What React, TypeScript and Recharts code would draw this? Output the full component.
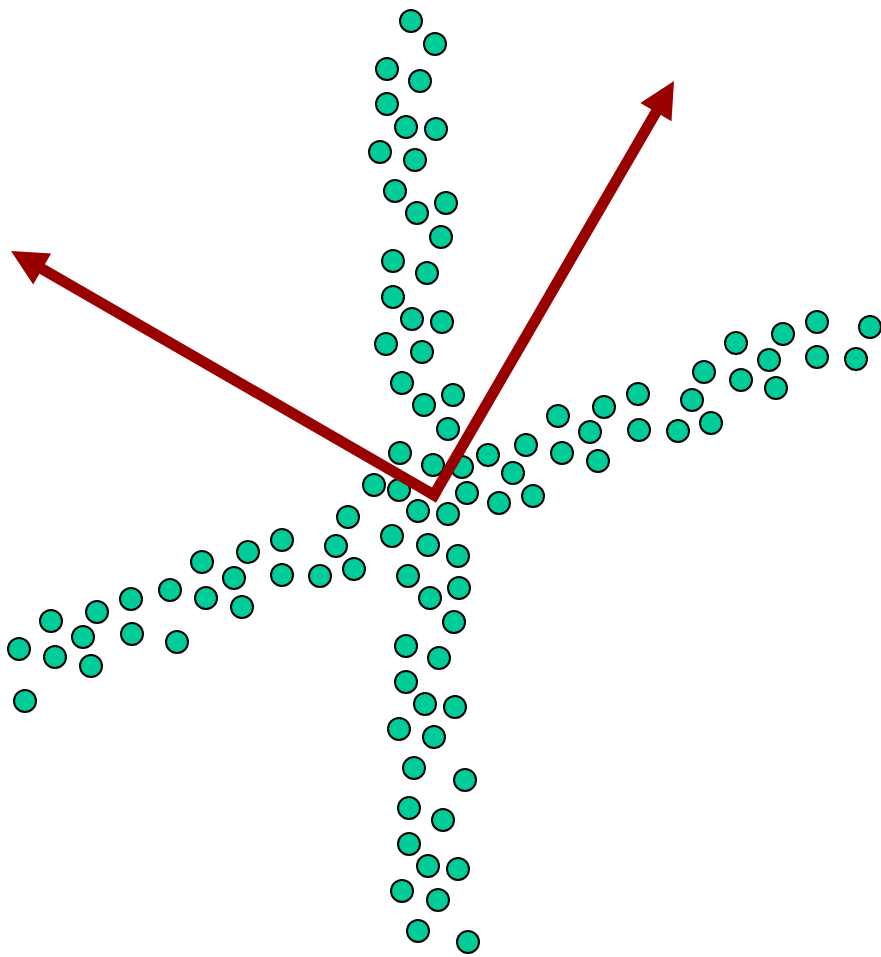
import React from 'react';
import { ScatterChart, Scatter, XAxis, YAxis, ReferenceLine } from 'recharts';

// Observation scores, grouped by the arm of the star they belong to: [x, y]
const upperArm: [number, number][] = [
  [-23, 474], [1, 451], [-47, 426], [-14, 414], [-47, 391], [-28, 368], [2, 366],
  [-54, 343], [-19, 335], [-39, 304], [-17, 282], [12, 292], [7, 258], [-41, 234],
  [-7, 222], [-41, 198], [-22, 176], [8, 173], [-48, 151], [-12, 143], [-32, 112],
  [-10, 90], [19, 100], [14, 66], [-34, 42], [-1, 30], [28, 28],
];

const centre: [number, number][] = [
  [-60, 10], [-35, 5], [33, 2], [-16, -16], [14, -19],
];

const rightArm: [number, number][] = [
  [54, 40], [79, 22], [65, -8], [99, -1], [92, 50], [128, 42], [124, 79], [156, 63],
  [170, 88], [164, 34], [204, 101], [205, 65], [244, 64], [258, 95], [277, 72],
  [270, 123], [302, 152], [307, 115], [335, 135], [342, 107], [349, 161], [383, 173],
  [383, 138], [422, 136], [436, 168],
];

const leftArm: [number, number][] = [
  [-86, -22], [-98, -51], [-80, -74], [-114, -81], [-152, -45], [-152, -80],
  [-186, -57], [-200, -83], [-192, -112], [-232, -67], [-228, -103], [-264, -95],
  [-257, -147], [-303, -104], [-302, -139], [-337, -117], [-351, -142], [-343, -171],
  [-383, -126], [-379, -162], [-415, -154], [-409, -206],
];

const lowerArm: [number, number][] = [
  [-42, -41], [-6, -50], [24, -61], [-26, -81], [-4, -103], [25, -93], [20, -127],
  [-28, -151], [5, -163], [-28, -187], [-9, -209], [21, -212], [-35, -234], [0, -242],
  [-20, -273], [31, -285], [-25, -313], [9, -325], [-25, -349], [-6, -371], [24, -374],
  [-32, -396], [4, -405], [-16, -436], [34, -447],
];

// Principal axis directions drawn as arrows from the origin
const axisVectors: [number, number][] = [
  [240, 414],
  [-423, 244],
];

const xDomain: [number, number] = [-434, 447];
const yDomain: [number, number] = [-462, 495];

const POINT_FILL = '#00CC99';
const ARROW_COLOR = '#990000';

const points = [...upperArm, ...centre, ...rightArm, ...leftArm, ...lowerArm].map(
  ([x, y]) => ({ x, y })
);

const Dot = (props: any) => {
  const { cx, cy } = props;
  if (cx == null || cy == null) return null;
  return <circle cx={cx} cy={cy} r={11} fill={POINT_FILL} stroke="#000" strokeWidth={2} />;
};

const Arrow = (props: any) => {
  const { x1, y1, x2, y2 } = props;
  const dx = x2 - x1;
  const dy = y2 - y1;
  const len = Math.sqrt(dx * dx + dy * dy) || 1;
  const ux = dx / len;
  const uy = dy / len;
  const headLen = 36;
  const halfW = 18;
  const bx = x2 - ux * headLen;
  const by = y2 - uy * headLen;
  const px = -uy;
  const py = ux;
  const head = `${x2},${y2} ${bx + px * halfW},${by + py * halfW} ${bx - px * halfW},${by - py * halfW}`;
  return (
    <g>
      <line
        x1={x1}
        y1={y1}
        x2={bx + ux * 2}
        y2={by + uy * 2}
        stroke={ARROW_COLOR}
        strokeWidth={11}
        strokeLinecap="square"
      />
      <polygon points={head} fill={ARROW_COLOR} />
    </g>
  );
};

export default function App() {
  return (
    <div style={{ position: 'absolute', left: 0, top: 0, background: '#fff' }}>
      <ScatterChart width={881} height={957} margin={{ top: 0, right: 0, bottom: 0, left: 0 }}>
        <XAxis type="number" dataKey="x" domain={xDomain} allowDataOverflow hide />
        <YAxis type="number" dataKey="y" domain={yDomain} allowDataOverflow hide />
        <Scatter data={points} shape={Dot} isAnimationActive={false} />
        {axisVectors.map(([vx, vy], i) => (
          <ReferenceLine
            key={i}
            segment={[{ x: 0, y: 0 }, { x: vx, y: vy }]}
            ifOverflow="visible"
            shape={Arrow}
            zIndex={1000}
          />
        ))}
      </ScatterChart>
    </div>
  );
}
